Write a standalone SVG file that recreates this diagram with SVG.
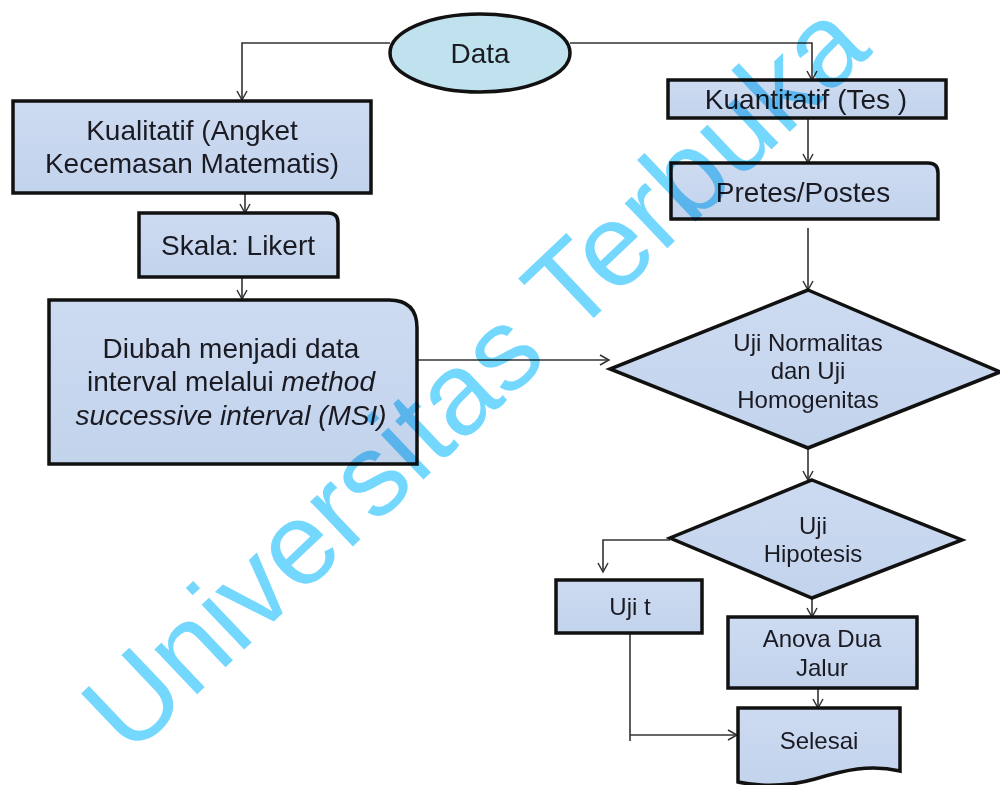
<svg xmlns="http://www.w3.org/2000/svg" width="1000" height="785" viewBox="0 0 1000 785">
<defs>
<linearGradient id="bf" x1="0" y1="0" x2="0" y2="1">
<stop offset="0" stop-color="#cddbf1"/>
<stop offset="1" stop-color="#c2d3ec"/>
</linearGradient>
<marker id="ar" markerWidth="12" markerHeight="12" refX="10" refY="6" orient="auto" markerUnits="userSpaceOnUse">
<path d="M1,1 L10,6 L1,11" fill="none" stroke="#333" stroke-width="1.5"/>
</marker>
</defs>
<style>
.n{fill:url(#bf);stroke:#111;stroke-width:3.5}
.t{font-family:"Liberation Sans",Arial,sans-serif;fill:#1a1a22;text-anchor:middle}
.b{font-size:28px}
.s{font-size:24px}
.c{fill:none;stroke:#333;stroke-width:1.6}
.wm{font-family:"Liberation Sans",Arial,sans-serif;font-size:117px;fill:#74d8fe;mix-blend-mode:multiply}
</style>
<rect width="1000" height="785" fill="#fff"/>
<g id="connectors">
<path class="c" d="M390,43 H242 V100" marker-end="url(#ar)"/>
<path class="c" d="M570,43 H812 V80" marker-end="url(#ar)"/>
<path class="c" d="M245,193 V213" marker-end="url(#ar)"/>
<path class="c" d="M242,277 V299" marker-end="url(#ar)"/>
<path class="c" d="M417,360 H609" marker-end="url(#ar)"/>
<path class="c" d="M808,118 V163" marker-end="url(#ar)"/>
<path class="c" d="M808,228 V290" marker-end="url(#ar)"/>
<path class="c" d="M808,448 V480" marker-end="url(#ar)"/>
<path class="c" d="M670,540 H603 V572" marker-end="url(#ar)"/>
<path class="c" d="M812,598 V617" marker-end="url(#ar)"/>
<path class="c" d="M818,680 V708" marker-end="url(#ar)"/>
<path class="c" d="M630,633 V741"/>
<path class="c" d="M630,735 H737" marker-end="url(#ar)"/>
</g>
<g id="data">
<ellipse cx="480" cy="53" rx="90" ry="39" fill="#bfe2ee" stroke="#111" stroke-width="3.5"/>
<text class="t b" x="480" y="63">Data</text>
</g>
<g id="kualitatif">
<rect class="n" x="13" y="101" width="358" height="92"/>
<text class="t b" x="192" y="140">Kualitatif (Angket</text>
<text class="t b" x="192" y="173">Kecemasan Matematis)</text>
</g>
<g id="skala">
<path class="n" d="M139,213 H328 Q338,213 338,223 V277 H139 Z"/>
<text class="t b" x="238" y="255">Skala: Likert</text>
</g>
<g id="diubah">
<path class="n" d="M49,300 H389 Q417,300 417,328 V464 H49 Z"/>
<text class="t b" x="231" y="358">Diubah menjadi data</text>
<text class="t b" x="231" y="391">interval melalui <tspan font-style="italic">method</tspan></text>
<text class="t b" x="231" y="425" font-style="italic">successive interval (MSI)</text>
</g>
<g id="kuantitatif">
<rect class="n" x="668" y="80" width="278" height="38"/>
<text class="t b" x="806" y="109">Kuantitatif (Tes )</text>
</g>
<g id="pretes">
<path class="n" d="M671,163 H928 Q938,163 938,173 V219 H671 Z"/>
<text class="t b" x="803" y="202">Pretes/Postes</text>
</g>
<g id="normalitas">
<polygon class="n" points="808,290 1000,372 808,448 610,369"/>
<text class="t s" x="808" y="351">Uji Normalitas</text>
<text class="t s" x="808" y="379">dan Uji</text>
<text class="t s" x="808" y="408">Homogenitas</text>
</g>
<g id="hipotesis">
<polygon class="n" points="812,480 962,540 812,598 670,538"/>
<text class="t s" x="813" y="534">Uji</text>
<text class="t s" x="813" y="562">Hipotesis</text>
</g>
<g id="ujit">
<rect class="n" x="556" y="580" width="146" height="53"/>
<text class="t s" x="630" y="615">Uji t</text>
</g>
<g id="anova">
<rect class="n" x="728" y="617" width="189" height="71"/>
<text class="t s" x="822" y="647">Anova Dua</text>
<text class="t s" x="822" y="676">Jalur</text>
</g>
<g id="selesai">
<path class="n" d="M738,708 H900 V771 C870,764 845,770 815,779 C790,786 762,787 738,782 Z"/>
<text class="t s" x="819" y="749">Selesai</text>
</g>
<text class="wm" transform="translate(130,758) rotate(-43.5)">Universitas Terbuka</text>
</svg>
